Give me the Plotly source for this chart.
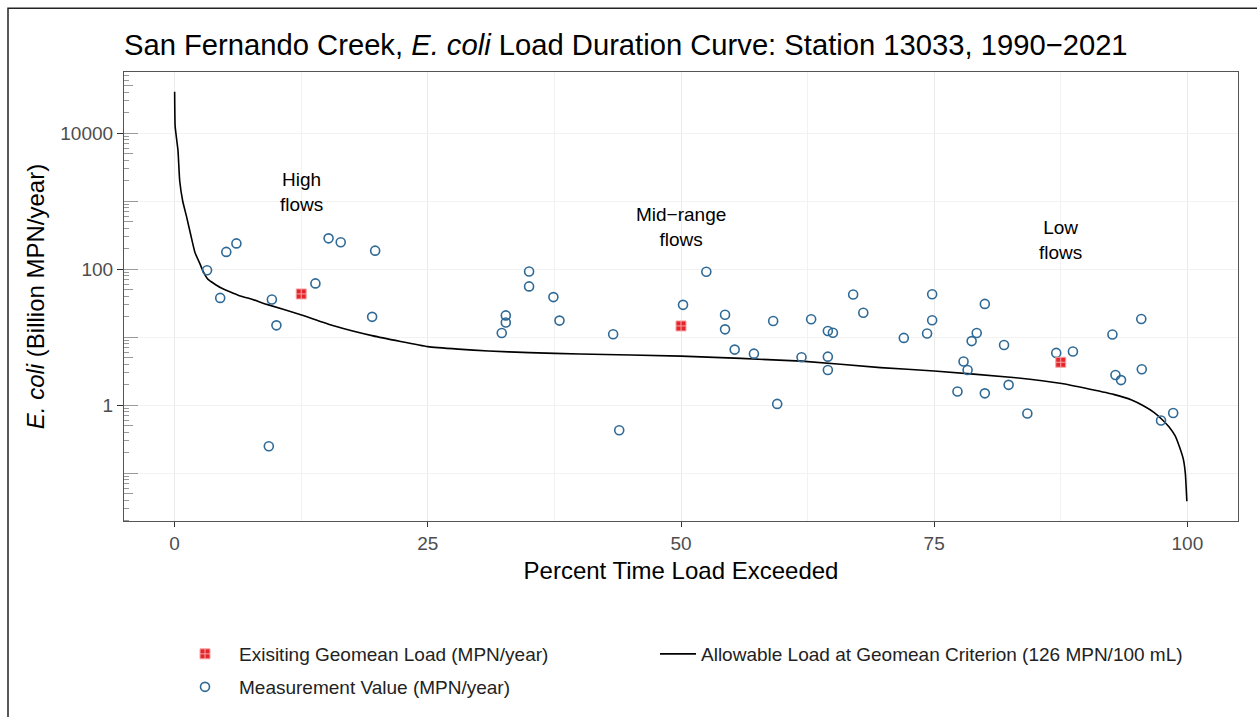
import math
import plotly.graph_objects as go

# ---- data ----
curve_pct = [0, 0.05, 0.33, 0.5, 0.8, 1.2, 1.6, 2.0, 2.5, 2.8, 3.3, 4.5, 6.4, 7.7, 9.1, 12.3,
             15.7, 19.6, 25, 28, 31, 35, 40, 50, 61.9, 69.7, 75, 82.8, 87.6, 90.4, 92.7,
             94.5, 95.7, 96.7, 97.5, 98.2, 98.8, 99.2, 99.6, 99.8, 99.95]
curve_load = [40700, 12600, 5600, 2000, 1000, 575, 316, 178, 120, 94, 71, 54, 41, 36, 30.5, 21.9,
              14.8, 10.5, 7.3, 6.7, 6.3, 5.95, 5.7, 5.3, 4.47, 3.59, 3.2, 2.57, 2.09, 1.72, 1.45,
              1.2, 0.98, 0.79, 0.62, 0.48, 0.355, 0.25, 0.162, 0.1, 0.039]

meas_pct = [3.2, 5.1, 6.1, 4.5, 9.6, 10.05, 9.3, 13.9, 15.2, 16.4, 19.8, 19.5,
            32.7, 32.7, 32.3, 35.0, 35.0, 37.4, 38.0, 43.3, 43.9, 50.2, 52.5, 54.35,
            54.35, 55.3, 57.2, 59.1, 59.5, 61.9, 62.85, 64.5, 65.0, 64.5, 64.5, 67.0,
            68.0, 72.0, 74.8, 74.8, 74.3, 77.3, 77.9, 78.3, 78.7, 79.2, 80.0, 80.0,
            81.9, 82.35, 84.2, 87.05, 88.7, 92.6, 92.9, 93.45, 95.45, 95.5, 97.4, 98.6]
meas_load = [97, 180, 240, 38, 36, 15, 0.25, 62, 285, 250, 188, 20,
             21, 16.5, 11.6, 93, 56, 39, 17.6, 11.1, 0.43, 30, 92, 21.5,
             13.1, 6.6, 5.75, 17.4, 1.05, 5.1, 18.4, 12.4, 11.7, 5.2, 3.3, 42.5,
             23, 9.8, 43, 17.8, 11.4, 1.6, 4.4, 3.3, 8.8, 11.6, 31, 1.5,
             7.7, 2.0, 0.76, 5.9, 6.2, 11, 2.8, 2.35, 18.6, 3.4, 0.6, 0.77]

geo_pct = [12.5, 50, 87.5]
geo_load = [43.4, 14.7, 4.3]

region_x = [12.5, 50, 87.5]
region_y = [1350, 420, 270]
region_labels = ["High<br>flows", "Mid\u2212range<br>flows", "Low<br>flows"]

x_ticks = [0, 25, 50, 75, 100]
x_minor = [12.5, 37.5, 62.5, 87.5]
y_ticks = [1, 100, 10000]
y_ticklabels = ["1", "100", "10000"]
decades = [0.01, 0.1, 1, 10, 100, 1000, 10000, 100000]

FONT = "Liberation Sans, Arial, sans-serif"
Y_RANGE = [-1.70, 4.90]

fig = go.Figure()

fig.add_trace(go.Scatter(
    x=curve_pct, y=curve_load, mode="lines",
    line=dict(color="black", width=1.6, shape="spline", smoothing=0.4),
    name="Allowable Load at Geomean Criterion (126 MPN/100 mL)",
    legend="legend2"))

fig.add_trace(go.Scatter(
    x=meas_pct, y=meas_load, mode="markers",
    marker=dict(symbol="circle-open", size=9, color="#2f6a96", line=dict(width=1.6)),
    name="Measurement Value (MPN/year)", legend="legend3"))

fig.add_trace(go.Scatter(
    x=geo_pct, y=geo_load, mode="markers",
    marker=dict(symbol="square-cross", size=10, color="#e3262d",
                line=dict(color="#f7a5a5", width=1)),
    name="Exisiting Geomean Load (MPN/year)", legend="legend"))

for xv, yv, txt in zip(region_x, region_y, region_labels):
    fig.add_annotation(x=xv, y=math.log10(yv), xref="x", yref="y", text=txt,
                       showarrow=False,
                       font=dict(family=FONT, size=19, color="black"))

minor_vals = [d * k for d in decades for k in (2, 3, 4, 6, 7, 8, 9)]
five_vals = [d * 5 for d in decades]

legend_font = dict(size=19, color="#222")

fig.update_layout(
    width=1257, height=717,
    margin=dict(l=124, r=19, t=72, b=195),
    paper_bgcolor="white", plot_bgcolor="white",
    font=dict(family=FONT, color="#4d4d4d"),
    title=dict(text="San Fernando Creek, <i>E. coli</i> Load Duration Curve: Station 13033, 1990\u22122021",
               x=124 / 1257, xanchor="left", xref="container",
               y=1 - 45 / 717, yanchor="middle", yref="container",
               font=dict(family=FONT, size=29.2, color="black")),
    xaxis=dict(range=[-5, 105], tickvals=x_ticks, ticks="outside", ticklen=5,
               tickcolor="#333", tickfont=dict(size=19, color="#4d4d4d"),
               showgrid=True, gridcolor="#ebebeb", gridwidth=1.2, zeroline=False,
               showline=True, mirror=True, linecolor="#555", linewidth=1.2,
               minor=dict(tickvals=x_minor, showgrid=True, gridcolor="#f2f2f2",
                          gridwidth=1, ticks=""),
               title=dict(text="Percent Time Load Exceeded", standoff=9,
                          font=dict(size=24, color="black"))),
    yaxis=dict(type="log", range=Y_RANGE, tickvals=y_ticks, ticktext=y_ticklabels,
               ticks="outside", ticklen=6, tickcolor="#333",
               tickfont=dict(size=19, color="#4d4d4d"),
               showgrid=True, gridcolor="#ebebeb", gridwidth=1.2, zeroline=False,
               showline=True, mirror=True, linecolor="#555", linewidth=1.2,
               minor=dict(tickvals=minor_vals, ticks="inside", ticklen=5,
                          tickcolor="#999", tickwidth=1, showgrid=False),
               title=dict(text="<i>E. coli</i> (Billion MPN/year)", standoff=8,
                          font=dict(size=24, color="black"))),
    yaxis2=dict(type="log", range=Y_RANGE, overlaying="y", side="left",
                tickvals=decades, showticklabels=False, ticks="inside", ticklen=14,
                tickcolor="#999", tickwidth=1,
                showgrid=True, gridcolor="#f2f2f2", gridwidth=1, zeroline=False,
                showline=False,
                minor=dict(tickvals=five_vals, ticks="inside", ticklen=9,
                           tickcolor="#999", tickwidth=1, showgrid=False)),
    legend=dict(orientation="h", x=(171 - 124) / 1114, xanchor="left",
                y=(522 - 654) / 450, yanchor="middle", itemwidth=58,
                font=legend_font, bgcolor="rgba(0,0,0,0)"),
    legend2=dict(orientation="h", x=(655 - 124) / 1114, xanchor="left",
                 y=(522 - 654) / 450, yanchor="middle", itemwidth=36,
                 font=legend_font, bgcolor="rgba(0,0,0,0)"),
    legend3=dict(orientation="h", x=(171 - 124) / 1114, xanchor="left",
                 y=(522 - 687) / 450, yanchor="middle", itemwidth=58,
                 font=legend_font, bgcolor="rgba(0,0,0,0)"),
    showlegend=True,
)

# invisible trace to activate yaxis2 (decade log ticks / minor grid)
fig.add_trace(go.Scatter(x=[None], y=[None], yaxis="y2", showlegend=False,
                         hoverinfo="skip"))

# outer frame of the figure
fig.add_shape(type="rect", xref="paper", yref="paper",
              x0=(8 - 124) / 1114, x1=(1262 - 124) / 1114,
              y0=(522 - 730) / 450, y1=(522 - 8) / 450,
              line=dict(color="#222", width=1.5), layer="below")

fig.write_html("out.html")
